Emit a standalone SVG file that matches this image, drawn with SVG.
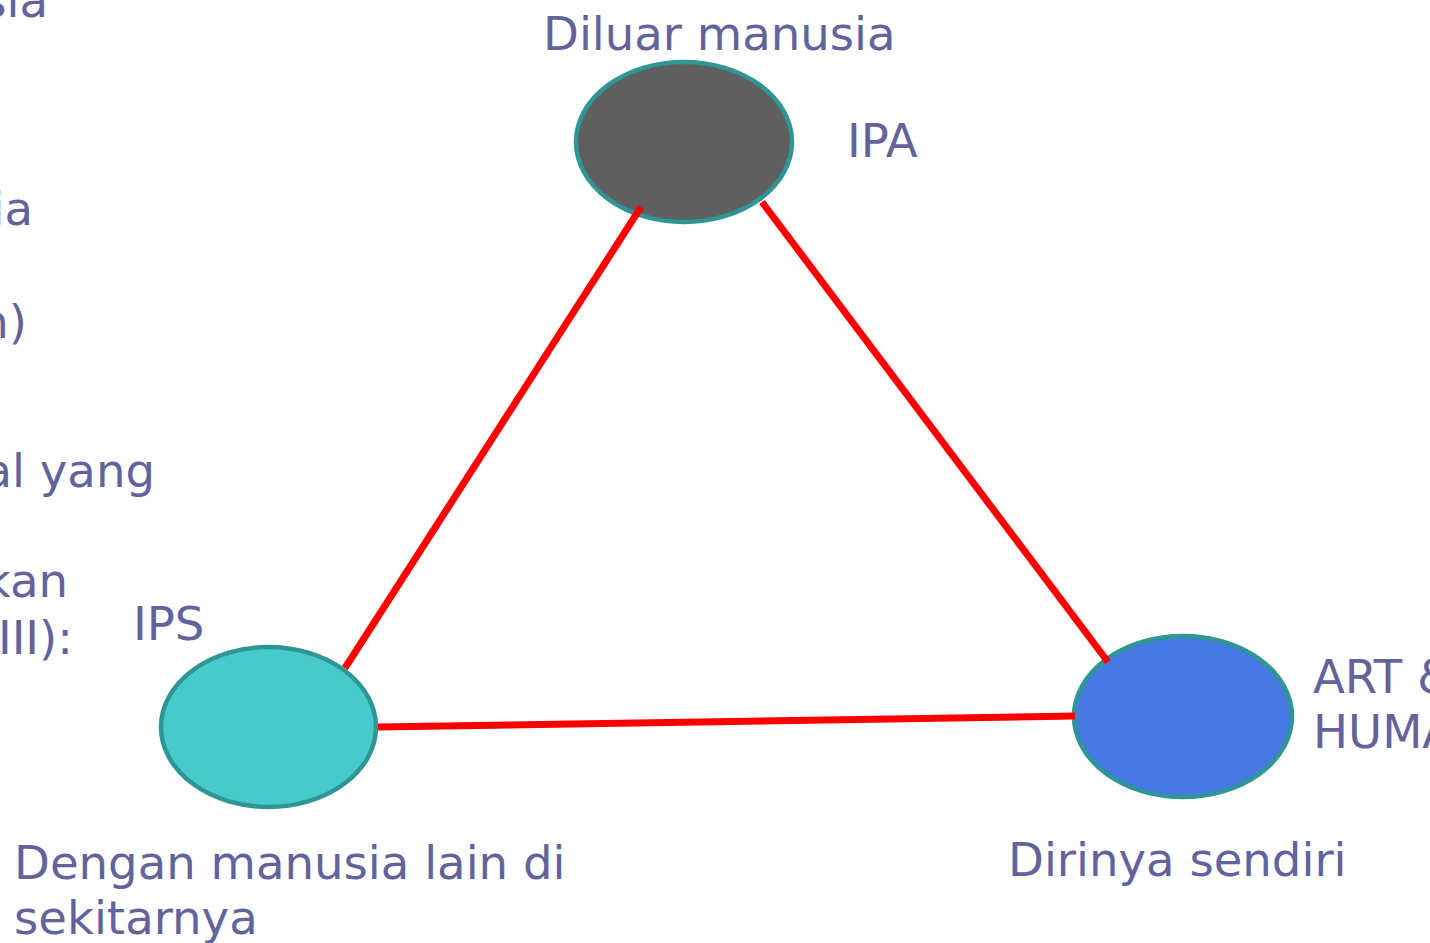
<svg xmlns="http://www.w3.org/2000/svg" width="1430" height="943" viewBox="0 0 1430 943">
<style>
.t{font-family:"DejaVu Sans","Liberation Sans",sans-serif;font-size:46.6px;fill:#63639b}
.e{stroke:#2f9595;stroke-width:4.5}
.c{stroke:#ff0000;stroke-width:7;fill:none}
</style>
<rect width="1430" height="943" fill="#ffffff"/>
<g id="left-text">
<text class="t" x="48" y="17" text-anchor="end">sia</text>
<text class="t" x="33" y="225" text-anchor="end">ia</text>
<text class="t" x="27" y="338" text-anchor="end">n)</text>
<text class="t" x="155" y="487" text-anchor="end">al yang</text>
<text class="t" x="68" y="597" text-anchor="end">kan</text>
<text class="t" x="73" y="654" text-anchor="end">III):</text>
</g>
<g id="node-ipa">
<ellipse class="e" cx="684" cy="142" rx="108" ry="80" fill="#5f5f5f"/>
<text class="t" x="543" y="50">Diluar manusia</text>
<text class="t" x="847" y="157">IPA</text>
</g>
<g id="node-ips">
<ellipse class="e" cx="268.5" cy="727" rx="107.5" ry="80" fill="#48c9cb"/>
<text class="t" x="133" y="640">IPS</text>
<text class="t" x="14" y="879">Dengan manusia lain di</text>
<text class="t" x="14" y="934">sekitarnya</text>
</g>
<g id="node-art">
<ellipse class="e" cx="1183" cy="716.5" rx="109" ry="80.5" fill="#4679e3"/>
<text class="t" x="1313" y="693">ART &amp;</text>
<text class="t" x="1313" y="748">HUMA</text>
<text class="t" x="1008" y="876">Dirinya sendiri</text>
</g>
<g id="connectors">
<line class="c" x1="641" y1="207" x2="345" y2="668"/>
<line class="c" x1="762" y1="202" x2="1108" y2="662"/>
<line class="c" x1="378" y1="727" x2="1075" y2="716"/>
</g>
</svg>
